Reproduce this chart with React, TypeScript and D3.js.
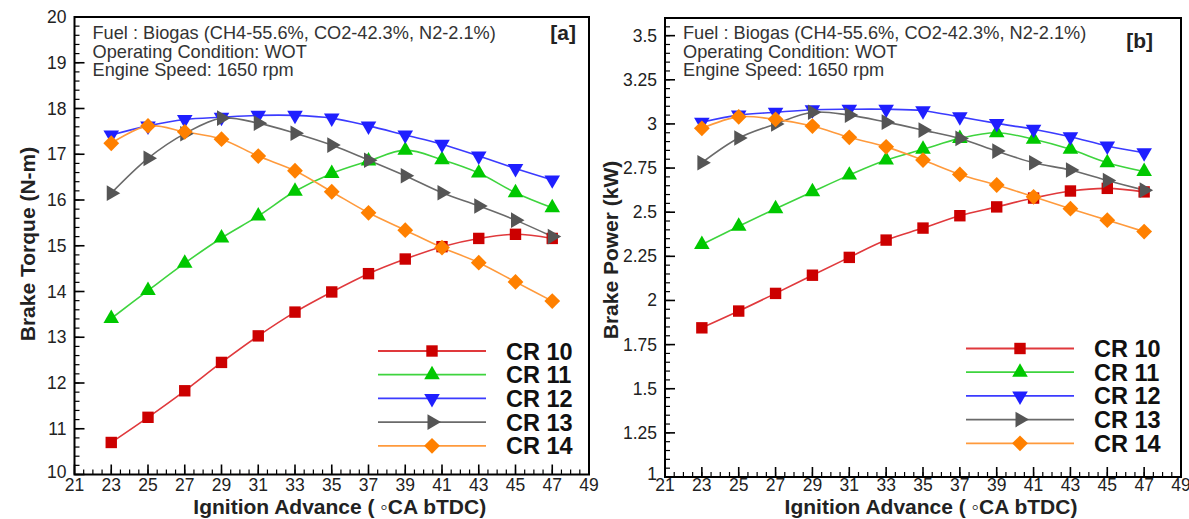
import React from "react";
import * as d3 from "d3";

const ignition = [23, 25, 27, 29, 31, 33, 35, 37, 39, 41, 43, 45, 47];
const seriesNames = ["CR 10", "CR 11", "CR 12", "CR 13", "CR 14"];

const torqueCR10 = [10.7, 11.25, 11.83, 12.45, 13.03, 13.55, 13.99, 14.39, 14.71, 14.98, 15.16, 15.25, 15.16];
const torqueCR11 = [13.41, 14.02, 14.62, 15.17, 15.65, 16.19, 16.58, 16.85, 17.09, 16.88, 16.59, 16.16, 15.83];
const torqueCR12 = [17.42, 17.62, 17.76, 17.81, 17.85, 17.85, 17.79, 17.62, 17.42, 17.22, 16.96, 16.69, 16.44];
const torqueCR13 = [16.15, 16.91, 17.45, 17.79, 17.68, 17.46, 17.2, 16.87, 16.53, 16.16, 15.87, 15.56, 15.2];
const torqueCR14 = [17.24, 17.62, 17.49, 17.33, 16.96, 16.64, 16.18, 15.72, 15.34, 14.96, 14.63, 14.21, 13.79];

const powerCR10 = [1.845, 1.94, 2.04, 2.143, 2.244, 2.342, 2.41, 2.48, 2.53, 2.58, 2.62, 2.635, 2.615];
const powerCR11 = [2.317, 2.42, 2.52, 2.616, 2.71, 2.795, 2.856, 2.918, 2.95, 2.913, 2.856, 2.78, 2.73];
const powerCR12 = [3.01, 3.05, 3.066, 3.08, 3.083, 3.083, 3.075, 3.04, 3.003, 2.97, 2.927, 2.875, 2.837];
const powerCR13 = [2.78, 2.92, 3.0, 3.066, 3.05, 3.01, 2.965, 2.918, 2.846, 2.78, 2.739, 2.68, 2.625];
const powerCR14 = [2.975, 3.04, 3.026, 2.988, 2.924, 2.87, 2.795, 2.714, 2.654, 2.587, 2.52, 2.455, 2.39];

const annotationLines = [
  "Fuel : Biogas (CH4-55.6%, CO2-42.3%, N2-2.1%)",
  "Operating Condition: WOT",
  "Engine Speed: 1650 rpm",
];

const lineColors = ["#e0393c", "#3ed43e", "#3b3bff", "#6a6a6a", "#ff9a3c"];
const markerColors = ["#cc0000", "#00c800", "#1f1fff", "#555555", "#ff8000"];
const markerKinds = ["square", "up", "down", "right", "diamond"];

function markerPath(kind: string): { d: string; rot: number } {
  if (kind === "square") return { d: d3.symbol().type(d3.symbolSquare).size(130)() as string, rot: 0 };
  if (kind === "diamond") return { d: d3.symbol().type(d3.symbolSquare).size(125)() as string, rot: 45 };
  const tri = d3.symbol().type(d3.symbolTriangle).size(105)() as string;
  if (kind === "up") return { d: tri, rot: 0 };
  if (kind === "down") return { d: tri, rot: 180 };
  return { d: tri, rot: 90 };
}

function Marker({ kind, x, y, color }: { kind: string; x: number; y: number; color: string }) {
  const m = markerPath(kind);
  return <path d={m.d} transform={`translate(${x},${y}) rotate(${m.rot})`} fill={color} />;
}

type PanelProps = {
  left: number; right: number; top: number; bottom: number;
  yDomain: [number, number]; yMajor: number; yMinor: number; yMaxLabel: number;
  series: number[][]; yTitle: string; tag: string; tagX: number; tagY: number;
  legendX1: number; legendX2: number; legendY: number; legendLabelX: number;
  yTitleX: number; yTitleY: number; yTitleSize: number;
};

function Panel(p: PanelProps) {
  const x = d3.scaleLinear().domain([21, 49]).range([p.left, p.right]);
  const y = d3.scaleLinear().domain(p.yDomain).range([p.bottom, p.top]);
  const xMajor = d3.range(21, 49.001, 2);
  const xMinor = d3.range(21, 49.001, 0.5);
  const nY = Math.round((p.yDomain[1] - p.yDomain[0]) / p.yMinor);
  const yMinorT = d3.range(0, nY + 1).map((i) => p.yDomain[0] + i * p.yMinor);
  const yMajorT = d3.range(0, Math.round((p.yMaxLabel - p.yDomain[0]) / p.yMajor) + 1).map((i) => p.yDomain[0] + i * p.yMajor);
  const line = d3.line<number>().x((_, i) => x(ignition[i])).y((v) => y(v)).curve(d3.curveCatmullRom.alpha(0.5));
  const fmt = (v: number) => String(+v.toFixed(2));
  const font = "Liberation Sans, Arial, sans-serif";
  return (
    <g fontFamily={font}>
      {p.series.map((s, k) => (
        <path key={"l" + k} d={line(s) as string} fill="none" stroke={lineColors[k]} strokeWidth={1.6} />
      ))}
      {p.series.map((s, k) => (
        <g key={"m" + k}>
          {s.map((v, i) => (
            <Marker key={i} kind={markerKinds[k]} x={x(ignition[i])} y={y(v)} color={markerColors[k]} />
          ))}
        </g>
      ))}
      {xMinor.map((t, i) => (
        <line key={"xm" + i} x1={x(t)} x2={x(t)} y1={p.bottom} y2={p.bottom - 5} stroke="#000" strokeWidth={1.2} />
      ))}
      {xMajor.map((t, i) => (
        <line key={"xM" + i} x1={x(t)} x2={x(t)} y1={p.bottom} y2={p.bottom - 10} stroke="#000" strokeWidth={1.6} />
      ))}
      {yMinorT.map((t, i) => (
        <line key={"ym" + i} x1={p.left} x2={p.left + 5} y1={y(t)} y2={y(t)} stroke="#000" strokeWidth={1.2} />
      ))}
      {yMajorT.map((t, i) => (
        <line key={"yM" + i} x1={p.left} x2={p.left + 10} y1={y(t)} y2={y(t)} stroke="#000" strokeWidth={1.6} />
      ))}
      <rect x={p.left} y={p.top} width={p.right - p.left} height={p.bottom - p.top} fill="none" stroke="#000" strokeWidth={2} />
      {xMajor.map((t, i) => (
        <text key={"xl" + i} x={x(t)} y={491} textAnchor="middle" fontSize={17.5} fill="#222">{fmt(t)}</text>
      ))}
      {yMajorT.map((t, i) => (
        <text key={"yl" + i} x={p.left - 8} y={y(t) + (i === 0 ? 3 : 6)} textAnchor="end" fontSize={17.5} fill="#222">{fmt(t)}</text>
      ))}
      <text x={(p.left + p.right) / 2 + 8} y={514} textAnchor="middle" fontSize={21} fontWeight="bold" fill="#222">
        Ignition Advance ( ◦CA bTDC)
      </text>
      <text transform={`translate(${p.yTitleX},${p.yTitleY}) rotate(-90)`} textAnchor="middle" fontSize={p.yTitleSize} fontWeight="bold" fill="#222">
        {p.yTitle}
      </text>
      {annotationLines.map((s, i) => (
        <text key={"a" + i} x={p.left + 18} y={39 + i * 18.5} fontSize={18.2} fill="#333">{s}</text>
      ))}
      <text x={p.tagX} y={p.tagY} textAnchor="end" fontSize={21} fontWeight="bold" fill="#222">{p.tag}</text>
      {seriesNames.map((n, k) => {
        const ly = p.legendY + k * 23.7;
        return (
          <g key={"lg" + k}>
            <line x1={p.legendX1} x2={p.legendX2} y1={ly} y2={ly} stroke={lineColors[k]} strokeWidth={1.8} />
            <Marker kind={markerKinds[k]} x={(p.legendX1 + p.legendX2) / 2} y={ly} color={markerColors[k]} />
            <text x={p.legendLabelX} y={ly + 8.5} fontSize={23.5} fontWeight="bold" fill="#111">{n}</text>
          </g>
        );
      })}
    </g>
  );
}

export default function App() {
  return (
    <svg width={1189} height={519} style={{ position: "absolute", left: 0, top: 0, background: "#fff" }}>
      <rect width={1189} height={519} fill="#fff" />
      <Panel
        left={74.5} right={589} top={17} bottom={474.5}
        yDomain={[10, 20]} yMajor={1} yMinor={0.2} yMaxLabel={20}
        series={[torqueCR10, torqueCR11, torqueCR12, torqueCR13, torqueCR14]}
        yTitle="Brake Torque (N-m)" tag="[a]" tagX={576} tagY={40}
        legendX1={378} legendX2={486} legendY={351} legendLabelX={506}
        yTitleX={35} yTitleY={244} yTitleSize={21}
      />
      <Panel
        left={665} right={1181} top={18} bottom={477}
        yDomain={[1, 3.6]} yMajor={0.25} yMinor={0.05} yMaxLabel={3.5}
        series={[powerCR10, powerCR11, powerCR12, powerCR13, powerCR14]}
        yTitle="Brake Power (kW)" tag="[b]" tagX={1153} tagY={48}
        legendX1={966} legendX2={1074} legendY={348.5} legendLabelX={1094}
        yTitleX={618} yTitleY={250} yTitleSize={21}
      />
    </svg>
  );
}
